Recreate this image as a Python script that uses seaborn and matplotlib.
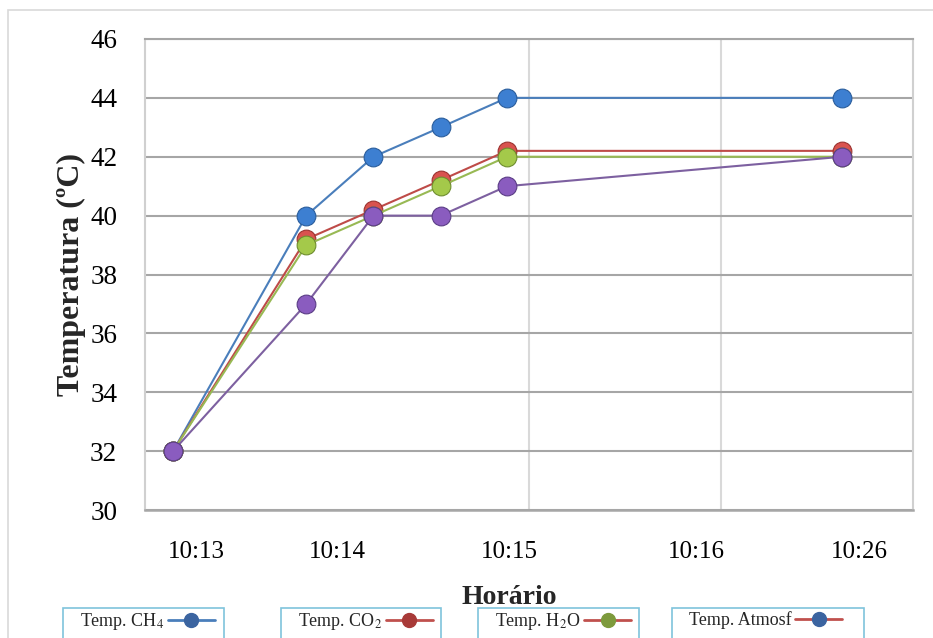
import matplotlib
matplotlib.use("Agg")
import matplotlib.pyplot as plt
from matplotlib.lines import Line2D
from matplotlib.patches import Rectangle
import seaborn as sns
import pandas as pd

# Sampling instants placed on a 0..4 axis (one unit per grid column)
x_pos = [0.146, 0.84, 1.19, 1.54, 1.885, 3.63]

temp_ch4 = [32, 40, 42, 43, 44, 44]
temp_co2 = [32, 39.2, 40.2, 41.2, 42.2, 42.2]
temp_h2o = [32, 39, 40, 41, 42, 42]
temp_atm = [32, 37, 40, 40, 41, 42]

series_names = ["Temp. CH$_4$", "Temp. CO$_2$", "Temp. H$_2$O", "Temp. Atmosf"]
series_values = [temp_ch4, temp_co2, temp_h2o, temp_atm]

tick_pos = [0.27, 1.0, 1.90, 2.87, 3.72]
tick_labels = ["10:13", "10:14", "10:15", "10:16", "10:26"]

line_colors = ["#4a7ebb", "#be4b48", "#98b954", "#7d60a0"]
marker_colors = ["#3d7fd1", "#d9534f", "#a4c94a", "#8a5cbf"]
marker_edges = ["#2a5d9c", "#9c3330", "#6f8e2f", "#5b3d86"]
legend_line = ["#4a7ebb", "#c0504d", "#c0504d", "#c0504d"]
legend_marker = ["#3b64a0", "#a83a38", "#7d9a3c", "#3b64a0"]

rows = []
for name, vals in zip(series_names, series_values):
    for i, (xp, v) in enumerate(zip(x_pos, vals)):
        rows.append({"pos": xp, "temp": v, "serie": name, "order": i})
df = pd.DataFrame(rows)

sns.set_theme(style="white")
plt.rcParams["font.family"] = ["Liberation Serif", "DejaVu Serif"]
plt.rcParams["mathtext.fontset"] = "stix"

fig = plt.figure(figsize=(9.33, 6.38), dpi=100)
fig.patch.set_facecolor("white")
fig.patches.append(Rectangle((8 / 933, -0.1), 1.2, 1 - 10 / 638 + 0.1,
                             transform=fig.transFigure, fill=False,
                             edgecolor="#d9d9d9", linewidth=1.2, zorder=0))

ax = fig.add_axes([145 / 933, 1 - 510 / 638, (913 - 145) / 933, (510 - 39) / 638])

for name, lc, mc, me in zip(series_names, line_colors, marker_colors, marker_edges):
    sub = df[df["serie"] == name]
    sns.lineplot(data=sub, x="pos", y="temp", ax=ax, sort=False, color=lc,
                 linewidth=1.5, marker="o", markersize=13.5, markerfacecolor=mc,
                 markeredgecolor=me, markeredgewidth=0.8, legend=False,
                 estimator=None, zorder=3)

ax.set_xlim(0, 4)
ax.set_ylim(30, 46)
ax.set_yticks(range(30, 47, 2))
ax.set_xticks(tick_pos)
ax.set_xticklabels(tick_labels)
ax.set_xticks([1, 2, 3], minor=True)
ax.grid(False)
ax.yaxis.grid(True, color="#a6a6a6", linewidth=1.5, zorder=0)
ax.xaxis.grid(True, which="minor", color="#d9d9d9", linewidth=1.5, zorder=0)
ax.tick_params(axis="both", which="both", length=0, colors="black")
ax.tick_params(axis="x", pad=22, labelsize=18)
ax.tick_params(axis="y", pad=20, labelsize=19.5)
for side in ["left", "top", "right"]:
    ax.spines[side].set_color("#d0d0d0")
    ax.spines[side].set_linewidth(1.5)
ax.spines["top"].set_color("#a6a6a6")
ax.spines["bottom"].set_color("#a6a6a6")
ax.spines["bottom"].set_linewidth(1.8)

ax.set_xlabel("Horário", fontsize=20, fontweight="bold")
ax.set_ylabel("Temperatura (ºC)", fontsize=23, fontweight="bold")
ax.xaxis.set_label_coords((509 - 145) / 768, -(585 - 510) / 471)
ax.yaxis.set_label_coords(-(145 - 86) / 768, 0.5)

# One framed legend box per series, below the plot
boxes = [(63, 224), (281, 441), (478, 639), (672, 864)]
for name, lc, mk, (x0, x1) in zip(series_names, legend_line, legend_marker, boxes):
    fig.patches.append(Rectangle((x0 / 933, -0.1), (x1 - x0) / 933,
                                 0.1 + 1 - 608 / 638, transform=fig.transFigure,
                                 fill=False, edgecolor="#7fc4dc", linewidth=1.2))
    h = Line2D([], [], color=lc, linewidth=2, marker="o", markersize=10,
               markerfacecolor=mk, markeredgecolor=mk)
    fig.legend([h], [name], loc="upper left",
               bbox_to_anchor=((x0 + 17) / 933, 1 - 611 / 638),
               markerfirst=False, fontsize=13, frameon=False,
               handlelength=2.6, handletextpad=0.2, borderpad=0,
               borderaxespad=0)

fig.savefig("out.png", dpi=100)
